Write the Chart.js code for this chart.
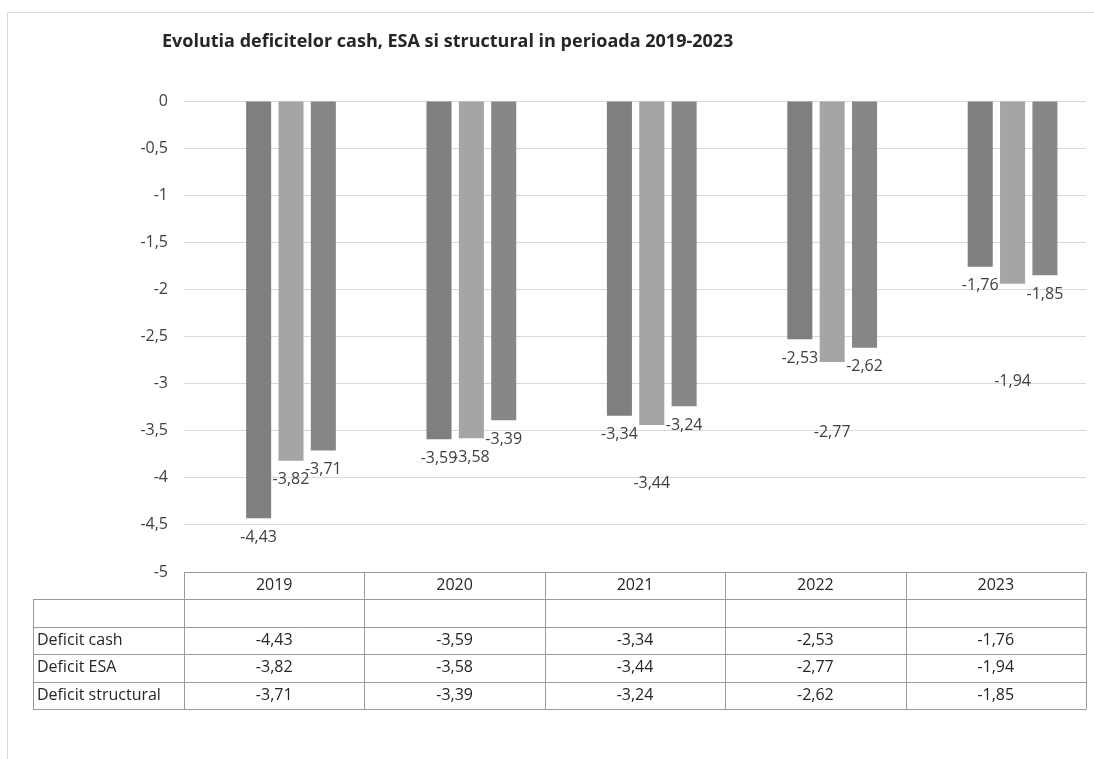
<!DOCTYPE html>
<html>
<head>
<meta charset="utf-8">
<script src="https://cdn.jsdelivr.net/npm/chart.js@4.4.1/dist/chart.umd.min.js"></script>
<style>
  html, body { margin: 0; padding: 0; background: #ffffff; overflow: hidden; }
  #wrap { width: 1094px; height: 759px; position: relative; }
</style>
</head>
<body>
<div id="wrap"><canvas id="chart" width="1094" height="759"></canvas></div>
<script>
'use strict'

// data
const years = ['2019', '2020', '2021', '2022', '2023']
const seriesNames = ['Deficit cash', 'Deficit ESA', 'Deficit structural']
const deficitCash = [-4.43, -3.59, -3.34, -2.53, -1.76]
const deficitEsa = [-3.82, -3.58, -3.44, -2.77, -1.94]
const deficitStructural = [-3.71, -3.39, -3.24, -2.62, -1.85]
const chartTitle = 'Evolutia deficitelor cash, ESA si structural in perioada 2019-2023'

;(() => {
  const seriesValues = [deficitCash, deficitEsa, deficitStructural]
  const seriesColors = ['#7f7f7f', '#a5a5a5', '#878787']
  // the ESA labels sit lower than the bar ends in the reference
  const labelDrop = [[0, 0, 0, 0, 0], [0, 0, 39, 52, 79], [0, 0, 0, 0, 0]]

  const textColor = '#404040'
  const baseFont = 'Open Sans'
  const fmt = (v) => String(v).replace('.', ',')

  // bars in the reference sit a bit right of the table columns
  const barShift = 0.093

  const framePlugin = {
    id: 'frame',
    beforeDraw(chart) {
      const ctx = chart.ctx
      ctx.save()
      ctx.strokeStyle = '#d9d9d9'
      ctx.lineWidth = 1
      ctx.strokeRect(7.5, 12.5, 1200, 900)
      ctx.fillStyle = '#262626'
      ctx.font = 'bold 18px "' + baseFont + '"'
      ctx.textBaseline = 'middle'
      ctx.textAlign = 'left'
      ctx.fillText(chartTitle, 162, 42, 575)
      ctx.restore()
    }
  }

  const labelPlugin = {
    id: 'barLabels',
    afterDatasetsDraw(chart) {
      const ctx = chart.ctx
      ctx.save()
      ctx.font = '16px "' + baseFont + '"'
      ctx.fillStyle = textColor
      ctx.textAlign = 'center'
      ctx.textBaseline = 'middle'
      chart.data.datasets.forEach((ds, d) => {
        chart.getDatasetMeta(d).data.forEach((bar, i) => {
          ctx.fillText(fmt(seriesValues[d][i]), bar.x, bar.y + 19 + labelDrop[d][i])
        })
      })
      ctx.restore()
    }
  }

  const tablePlugin = {
    id: 'dataTable',
    afterDraw(chart) {
      const ctx = chart.ctx
      const area = chart.chartArea
      const colW = (area.right - area.left) / years.length
      const rowH = 27.4
      const top = area.bottom
      const leftEdge = 33
      const rows = 5
      const snap = (v) => Math.round(v) + 0.5

      ctx.save()
      ctx.strokeStyle = '#9a9a9a'
      ctx.lineWidth = 1
      ctx.beginPath()
      // header row only over the year columns
      ctx.moveTo(area.left, snap(top))
      ctx.lineTo(area.right, snap(top))
      for (let r = 1; r <= rows; r++) {
        const y = snap(top + r * rowH)
        ctx.moveTo(leftEdge, y)
        ctx.lineTo(area.right, y)
      }
      ctx.moveTo(snap(leftEdge), snap(top + rowH))
      ctx.lineTo(snap(leftEdge), snap(top + rows * rowH))
      for (let c = 0; c <= years.length; c++) {
        const x = snap(area.left + c * colW)
        ctx.moveTo(x, snap(top))
        ctx.lineTo(x, snap(top + rows * rowH))
      }
      ctx.stroke()

      ctx.fillStyle = '#262626'
      ctx.font = '16px "' + baseFont + '"'
      ctx.textBaseline = 'middle'
      ctx.textAlign = 'center'
      years.forEach((yr, c) => {
        ctx.fillText(yr, area.left + (c + 0.5) * colW, top + rowH / 2)
      })
      seriesNames.forEach((name, s) => {
        const y = top + (s + 2.5) * rowH
        ctx.textAlign = 'left'
        ctx.fillText(name, leftEdge + 4, y)
        ctx.textAlign = 'center'
        seriesValues[s].forEach((v, c) => {
          ctx.fillText(fmt(v), area.left + (c + 0.5) * colW, y)
        })
      })
      ctx.restore()
    }
  }

  Chart.defaults.font.family = baseFont

  new Chart(document.getElementById('chart'), {
    type: 'bar',
    data: {
      datasets: seriesNames.map((name, d) => ({
        label: name,
        data: seriesValues[d].map((v, i) => ({ x: i, y: v })),
        backgroundColor: seriesColors[d],
        borderWidth: 0,
        categoryPercentage: 0.538,
        barPercentage: 0.774
      }))
    },
    options: {
      responsive: false,
      animation: false,
      layout: {
        padding: { left: 0, right: 8, top: 101, bottom: 187 }
      },
      scales: {
        x: {
          type: 'linear',
          offset: false,
          min: -0.5 - barShift,
          max: years.length - 0.5 - barShift,
          ticks: { stepSize: 1, includeBounds: false },
          display: false
        },
        y: {
          min: -5,
          max: 0,
          afterFit(scale) {
            scale.width = 184
          },
          border: { display: false },
          grid: {
            color: '#d9d9d9',
            drawTicks: false
          },
          ticks: {
            stepSize: 0.5,
            padding: 16,
            color: textColor,
            font: { size: 16 },
            callback: (v) => fmt(Math.round(v * 10) / 10)
          }
        }
      },
      plugins: {
        legend: { display: false },
        tooltip: { enabled: false }
      }
    },
    plugins: [framePlugin, labelPlugin, tablePlugin]
  })
})()
</script>
</body>
</html>
